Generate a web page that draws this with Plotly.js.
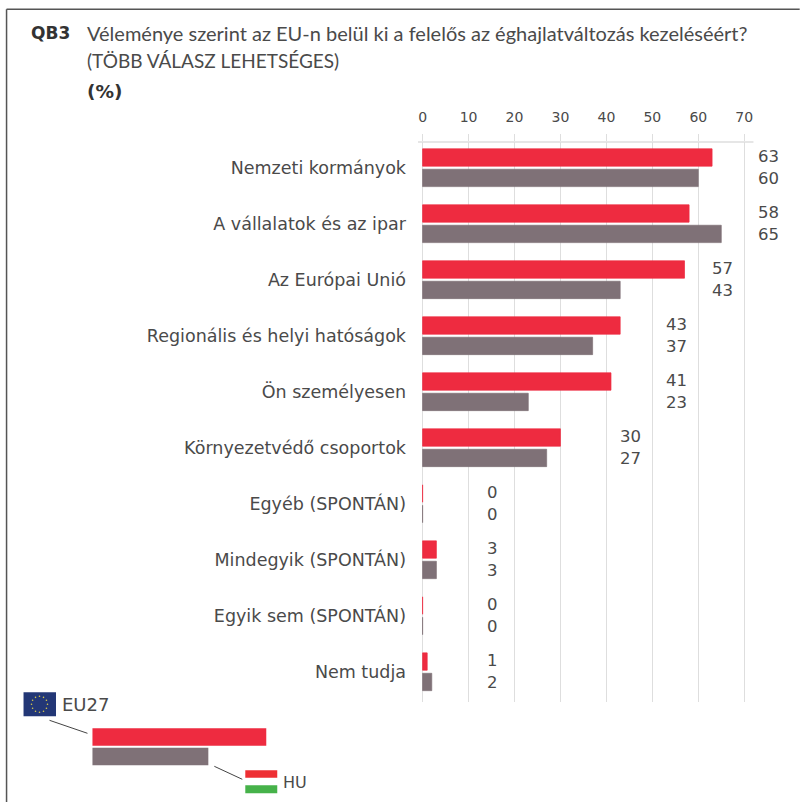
<!DOCTYPE html>
<html><head><meta charset="utf-8">
<script src="https://cdn.plot.ly/plotly-3.0.1.min.js"></script>
<style>html,body{margin:0;padding:0;background:#fff}</style></head>
<body><div id="c" style="width:800px;height:802px"></div>
<script>
const categories = ["Nemzeti kormányok","A vállalatok és az ipar","Az Európai Unió","Regionális és helyi hatóságok","Ön személyesen","Környezetvédő csoportok","Egyéb (SPONTÁN)","Mindegyik (SPONTÁN)","Egyik sem (SPONTÁN)","Nem tudja"];
const eu27 = [63,58,57,43,41,30,0,3,0,1];
const hu = [60,65,43,37,23,27,0,3,0,2];
const xTicks = [0,10,20,30,40,50,60,70];

const L=417.9, R=417.9+79*4.6, T=141.7, B=701.7, W=R-L, H=B-T;
const px=x=>(x-L)/W, py=y=>(B-y)/H;
const textCol='#4a4a4a', red='#ee2b40', grey='#7f7177', gridCol='#dedede';
const font='DejaVu Sans';

function rect(x0,y0,x1,y1,c){return {type:'rect',xref:'paper',yref:'paper',x0:px(x0),x1:px(x1),y0:py(y0),y1:py(y1),fillcolor:c,line:{width:0},layer:'above'};}
function line(x0,y0,x1,y1,c,w){return {type:'line',xref:'paper',yref:'paper',x0:px(x0),x1:px(x1),y0:py(y0),y1:py(y1),line:{color:c,width:w},layer:'above'};}
function label(x,y,t,o){return Object.assign({xref:'paper',yref:'paper',x:px(x),y:py(y),text:t,showarrow:false,xanchor:'left',yanchor:'middle',font:{family:font,size:15,color:textCol}},o||{});}

const shapes=[
  {type:'line',xref:'x',yref:'paper',x0:-1,x1:72,y0:1,y1:1,line:{color:gridCol,width:1.5},layer:'below'},
  line(6,9,800,9,'#555',1.5), line(6,9,6,802,'#555',1.5),
  rect(92,728,266,745.5,red), rect(92,747.5,208,765,grey),
  rect(23,692,55.5,716,'#233776'),
  line(49,720,87,733,'#444',1), line(214,766,242,779,'#444',1),
  rect(245,770,277,777.5,'#ee2f33'), rect(245,785,277,793,'#46b24a')
];
for(let i=0;i<12;i++){const a=i*Math.PI/6,cx=39+8*Math.cos(a),cy=704+8*Math.sin(a);
  shapes.push({type:'circle',xref:'paper',yref:'paper',x0:px(cx-.8),x1:px(cx+.8),y0:py(cy+.8),y1:py(cy-.8),fillcolor:'#d8c94a',line:{width:0},layer:'above'});}

const annotations=[
  label(28,33,'<b>QB3</b>',{font:{family:font,size:17,color:'#333'}}),
  label(85,33,'Véleménye szerint az EU-n belül ki a felelős az éghajlatváltozás kezeléséért?',{font:{family:'Lato',size:20,color:textCol}}),
  label(85,60,'(TÖBB VÁLASZ LEHETSÉGES)',{font:{family:'Lato',size:19,color:textCol}}),
  label(85,91,'<b>(%)</b>',{font:{family:font,size:18.5,color:'#333'}}),
  label(60,704,'EU27',{font:{family:font,size:18,color:textCol}}),
  label(281,782,'HU',{font:{family:font,size:16,color:textCol}})
];
categories.forEach((c,i)=>{
  const pos=Math.floor(Math.max(eu27[i],hu[i])/10)*10+15;
  [[eu27[i],-11],[hu[i],11]].forEach(([v,s])=>annotations.push({xref:'x',yref:'y',x:pos,y:c,xshift:1,yshift:-s,text:String(v),showarrow:false,xanchor:'center',yanchor:'middle',font:{family:font,size:16.5,color:textCol}}));
});

Plotly.newPlot('c',[
  {type:'bar',orientation:'h',name:'EU27',y:categories,x:eu27,marker:{color:red,line:{color:red,width:0.7}},hoverinfo:'x+y'},
  {type:'bar',orientation:'h',name:'HU',y:categories,x:hu,marker:{color:grey,line:{color:grey,width:0.7}},hoverinfo:'x+y'}
],{
  width:800,height:802,showlegend:false,paper_bgcolor:'#fff',plot_bgcolor:'#fff',
  margin:{l:L,r:800-R,t:T,b:802-B,pad:0},
  barmode:'group',bargap:0.27,bargroupgap:0.15,
  xaxis:{side:'top',range:[-1,78],tickmode:'array',tickvals:xTicks,ticktext:xTicks.map(String),ticks:'outside',ticklen:7,tickcolor:gridCol,tickwidth:1,
    showgrid:true,gridcolor:gridCol,gridwidth:1,zeroline:true,zerolinecolor:gridCol,showline:false,
    ticklabelstandoff:6,tickfont:{family:font,size:14,color:textCol},automargin:false},
  yaxis:{type:'category',categoryorder:'array',categoryarray:categories,range:[9.54,-0.459],showgrid:false,zeroline:false,showline:false,ticks:'',
    ticklabelstandoff:11,tickfont:{family:font,size:17.5,color:textCol},automargin:false},
  shapes,annotations
},{displayModeBar:false,staticPlot:true});
</script></body></html>
